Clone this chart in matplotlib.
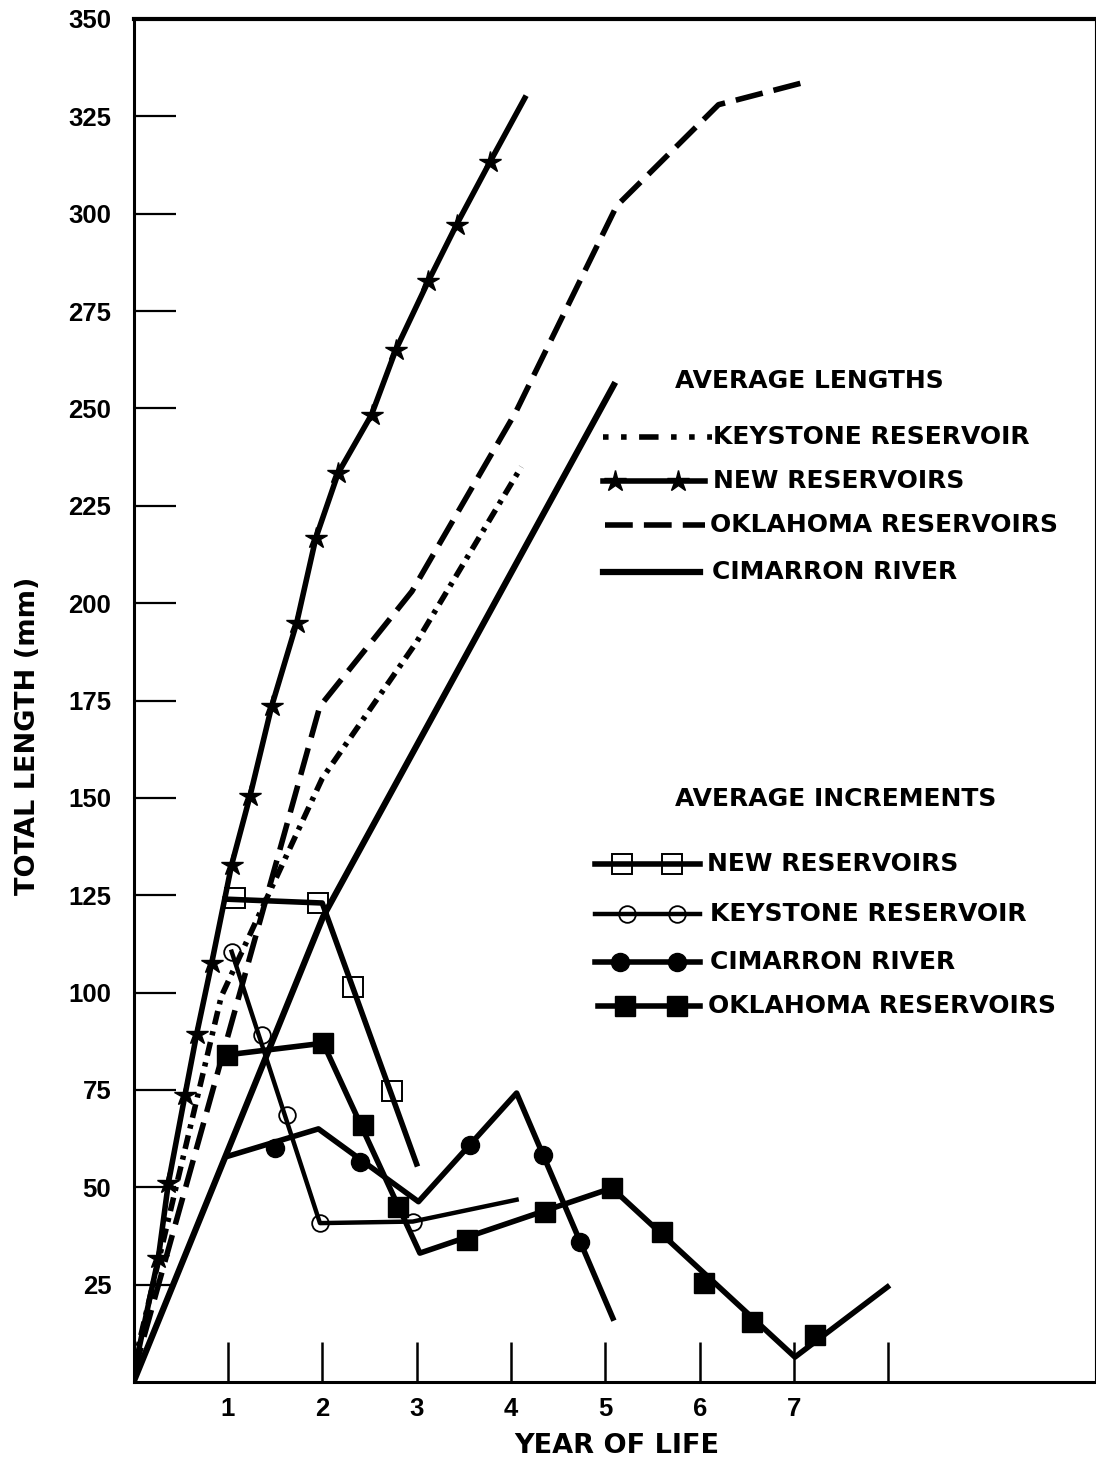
import matplotlib
matplotlib.use('Agg')
import matplotlib.pyplot as plt
from matplotlib.lines import Line2D

plt.rcParams['lines.scale_dashes'] = False

# average lengths (total length, mm)
new_len_x = [0.0, 0.263, 0.369, 0.546, 0.669, 0.828, 1.04, 1.234, 1.464, 1.729,
             1.933, 2.169, 2.523, 2.781, 3.123, 3.424, 3.776, 4.147]
new_len_y = [2, 31.8, 51.0, 73.7, 89.3, 107.5, 132.8, 150.4, 173.5, 194.9,
             216.8, 233.4, 248.4, 265.1, 282.6, 297.2, 313.2, 329.7]
key_len_x = [0.0, 0.93, 2.0, 3.0, 4.11]
key_len_y = [4, 99, 155, 190, 235]
okl_len_x = [0.0, 1.975, 2.95, 4.05, 5.12, 6.2, 7.15]
okl_len_y = [2, 173.5, 203, 249, 302, 328, 334]
cim_len_x = [0.0, 2.01, 5.09]
cim_len_y = [0, 119.5, 256]

# average increments
new_inc_x = [0.97, 2.0, 3.0]
new_inc_y = [124, 123, 56]
new_inc_mx = [1.075, 1.958, 2.33, 2.735]
new_inc_my = [124.2, 123, 101.5, 74.6]

key_inc_x = [1.04, 1.976, 2.96, 4.06]
key_inc_y = [110.5, 40.8, 41.2, 46.8]
key_inc_mx = [1.04, 1.358, 1.623, 1.976, 2.96]
key_inc_my = [110.5, 89.1, 68.6, 40.8, 41.2]

cim_inc_x = [0.99, 1.96, 3.02, 4.06, 5.08]
cim_inc_y = [57.9, 65.0, 46.3, 74.2, 16.4]
cim_inc_mx = [1.50, 2.40, 3.565, 4.34, 4.73]
cim_inc_my = [60.0, 56.6, 60.9, 58.3, 36.0]

okl_inc_x = [0.99, 2.01, 3.035, 5.07, 7.01, 7.99]
okl_inc_y = [84.0, 87.0, 33.1, 49.8, 6.4, 24.4]
okl_inc_mx = [0.99, 2.01, 2.43, 2.80, 3.53, 4.36, 5.07, 5.6, 6.05, 6.55, 7.22]
okl_inc_my = [84.0, 87.0, 66.0, 45.0, 36.5, 43.7, 49.8, 38.5, 25.4, 15.4, 12.1]

y_ticks = list(range(25, 351, 25))
x_ticks = [1, 2, 3, 4, 5, 6, 7, 8]
x_tick_labels = ['1', '2', '3', '4', '5', '6', '7', '']

W, H = 1096, 1460
TICK_FONT = dict(family='Liberation Sans', weight='bold', size=18.5)
TEXT_FONT = dict(family='DejaVu Sans', weight='bold', size=18)
LABEL_FONT = dict(family='DejaVu Sans', weight='bold', size=19.5)

fig = plt.figure(figsize=(W / 100, H / 100), dpi=100)
ax = fig.add_axes([133.5 / W, (H - 1382) / H, (1095 - 133.5) / W, (1382 - 19) / H])
ax.set_xlim(0, 10.19)
ax.set_ylim(0, 350)

lw = 4.0
dash_dot = (0, (10, 5, 3, 5))
dashed = (0, (20, 8))

# lengths
ax.plot(new_len_x, new_len_y, c='k', lw=lw, marker='*', ms=16,
        markevery=list(range(1, len(new_len_x) - 1)))
ax.plot(key_len_x, key_len_y, c='k', lw=lw, ls=dash_dot)
ax.plot(okl_len_x, okl_len_y, c='k', lw=lw, ls=dashed)
ax.plot(cim_len_x, cim_len_y, c='k', lw=lw + 0.5)

# increments
ax.plot(new_inc_x, new_inc_y, c='k', lw=lw)
ax.plot(new_inc_mx, new_inc_my, ls='none', marker='s', ms=14, mfc='none', mec='k', mew=1.4)
ax.plot(key_inc_x, key_inc_y, c='k', lw=3.2)
ax.plot(key_inc_mx, key_inc_my, ls='none', marker='o', ms=12, mfc='none', mec='k', mew=1.3)
ax.plot(cim_inc_x, cim_inc_y, c='k', lw=lw)
ax.plot(cim_inc_mx, cim_inc_my, ls='none', marker='o', ms=13, c='k')
ax.plot(okl_inc_x, okl_inc_y, c='k', lw=lw)
ax.plot(okl_inc_mx, okl_inc_my, ls='none', marker='s', ms=14, c='k')

# axes frame and ticks
ax.spines['left'].set_linewidth(2.2)
ax.spines['bottom'].set_linewidth(2.2)
ax.spines['top'].set_linewidth(3.0)
ax.spines['right'].set_linewidth(0.8)
ax.set_yticks(y_ticks)
ax.set_yticklabels([str(v) for v in y_ticks], fontdict=TICK_FONT)
ax.set_xticks(x_ticks)
ax.set_xticklabels(x_tick_labels, fontdict=TICK_FONT)
ax.tick_params(axis='y', direction='in', length=30, width=1.6, pad=16)
ax.tick_params(axis='x', direction='in', length=29, width=1.8, pad=11)

ax.set_xlabel('YEAR OF LIFE', fontdict=LABEL_FONT, va='center')
ax.xaxis.set_label_coords(0.503, -0.047)
ax.set_ylabel('TOTAL LENGTH (mm)', fontdict=LABEL_FONT, va='center')
ax.yaxis.set_label_coords(-0.110, 0.474)


def fp(x, y):
    return x / W, 1 - y / H


def sample(y, x0, x1, tx, label, ls='-', lw=lw, marker=None, mxs=(), **mk):
    a, b = fp(x0, y)
    c, _ = fp(x1, y)
    fig.add_artist(Line2D([a, c], [b, b], color='k', lw=lw, ls=ls,
                          transform=fig.transFigure))
    if marker:
        xs = [fp(m, y)[0] for m in mxs]
        fig.add_artist(Line2D(xs, [b] * len(xs), ls='none', marker=marker,
                              transform=fig.transFigure, **mk))
    fig.text(*fp(tx, y), label, va='center', ha='left', **TEXT_FONT)


fig.text(*fp(675, 381), 'AVERAGE LENGTHS', va='center', ha='left', **TEXT_FONT)
sample(437, 603, 712, 713, 'KEYSTONE RESERVOIR', ls=(0, (4, 9, 4, 9, 14, 9)))
sample(481, 603, 705, 713, 'NEW RESERVOIRS', marker='*', mxs=(615, 678),
       ms=16, color='k')
sample(525, 605, 705, 710, 'OKLAHOMA RESERVOIRS', ls=(0, (20, 8)))
sample(572, 603, 700, 712, 'CIMARRON RIVER', lw=lw + 0.5)

fig.text(*fp(675, 799), 'AVERAGE INCREMENTS', va='center', ha='left', **TEXT_FONT)
sample(864, 595, 700, 707, 'NEW RESERVOIRS', marker='s', mxs=(622, 672),
       ms=14, mfc='none', mec='k', mew=1.4)
sample(914, 595, 700, 710, 'KEYSTONE RESERVOIR', lw=3.2, marker='o', mxs=(627, 677),
       ms=12, mfc='none', mec='k', mew=1.3)
sample(962, 595, 700, 710, 'CIMARRON RIVER', marker='o', mxs=(620, 677),
       ms=13, color='k')
sample(1006, 598, 700, 708, 'OKLAHOMA RESERVOIRS', marker='s', mxs=(625, 677),
       ms=14, color='k')

fig.savefig('out.png', dpi=100)
